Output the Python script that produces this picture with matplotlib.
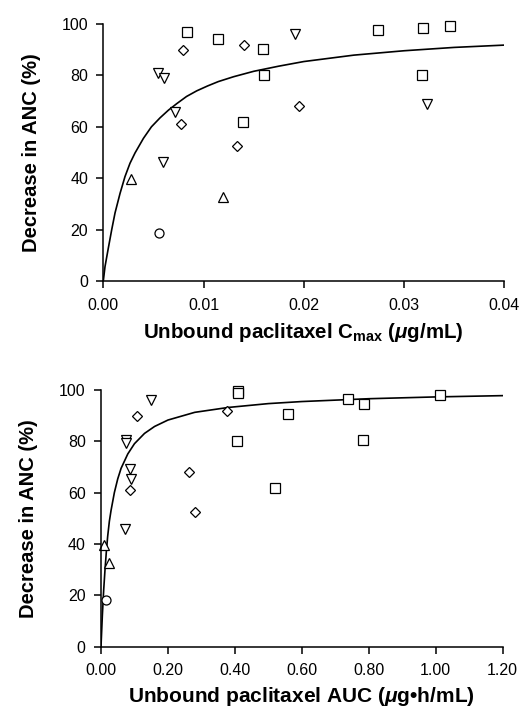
import numpy as np
from matplotlib import pyplot as plt
from matplotlib.ticker import FormatStrFormatter

plt.rcParams['font.family'] = ['Liberation Sans', 'DejaVu Sans']
plt.rcParams['mathtext.fontset'] = 'custom'
plt.rcParams['mathtext.rm'] = 'Liberation Sans:bold'
plt.rcParams['mathtext.bf'] = 'Liberation Sans:bold'
plt.rcParams['mathtext.it'] = 'Liberation Sans:italic:bold'

# top panel: unbound Cmax (ug/mL) vs decrease in ANC (%)
cmax_square_x = [0.00838, 0.01147, 0.0159, 0.0160, 0.01393, 0.02737, 0.03185, 0.03461, 0.03175]
cmax_square_y = [96.8, 94.3, 90.4, 80.0, 61.9, 97.7, 98.6, 99.1, 80.0]
cmax_diamond_x = [0.00791, 0.01403, 0.00771, 0.01337, 0.01952]
cmax_diamond_y = [89.8, 91.7, 61.0, 52.7, 68.0]
cmax_down_x = [0.00545, 0.00602, 0.00712, 0.00599, 0.01909, 0.03232]
cmax_down_y = [80.8, 79.1, 65.6, 46.4, 96.0, 69.0]
cmax_up_x = [0.00279, 0.01197]
cmax_up_y = [39.8, 32.8]
cmax_circle_x = [0.00559]
cmax_circle_y = [18.5]

# fitted curve
cmax_fit_x = [0.0, 0.00017, 0.0005, 0.00084, 0.00117, 0.00167, 0.00216, 0.00266, 0.00316,
              0.004, 0.0048, 0.00566, 0.0065, 0.00732, 0.0083, 0.00932, 0.0104,
              0.01147, 0.013, 0.015, 0.0175, 0.02, 0.025, 0.03, 0.035, 0.04]
cmax_fit_y = [0.0, 5.6, 12.8, 20.0, 26.5, 34.1, 40.6, 45.8, 49.8,
              55.5, 60.0, 63.5, 66.5, 69.0, 71.8, 74.0, 75.9,
              77.6, 79.5, 81.6, 83.6, 85.4, 87.9, 89.6, 90.9, 91.8]

# bottom panel: unbound AUC (ug*h/mL) vs decrease in ANC (%)
auc_square_x = [0.408, 0.408, 0.407, 0.520, 0.558, 0.737, 0.785, 0.784, 1.012]
auc_square_y = [99.4, 98.6, 80.0, 61.6, 90.4, 96.5, 94.3, 80.3, 97.8]
auc_diamond_x = [0.109, 0.377, 0.0866, 0.262, 0.280]
auc_diamond_y = [89.8, 91.7, 60.8, 68.0, 52.3]
auc_down_x = [0.148, 0.0736, 0.0756, 0.0876, 0.0896, 0.0716]
auc_down_y = [95.9, 80.4, 79.1, 69.3, 65.4, 45.8]
auc_up_x = [0.010, 0.023]
auc_up_y = [39.6, 32.4]
auc_circle_x = [0.016]
auc_circle_y = [18.2]

auc_fit_x = [0.0, 0.004, 0.008, 0.012, 0.016, 0.02, 0.025, 0.03, 0.04, 0.05, 0.06,
             0.08, 0.10, 0.13, 0.16, 0.20, 0.28, 0.38, 0.50, 0.60, 0.80, 1.00, 1.20]
auc_fit_y = [0.0, 12.0, 22.0, 30.0, 37.0, 43.0, 48.8, 53.0, 60.0, 65.3, 69.4,
             75.0, 79.0, 83.0, 85.7, 88.2, 91.2, 93.1, 94.6, 95.4, 96.5, 97.2, 97.7]

fig = plt.figure(figsize=(5.26, 7.13), dpi=100)
ax1 = fig.add_axes([0.1964, 0.6059, 0.7624, 0.3604])
ax2 = fig.add_axes([0.192, 0.093, 0.7637, 0.3604])

def style(ax):
    for s in ['top', 'right']:
        ax.spines[s].set_visible(False)
    for s in ['left', 'bottom']:
        ax.spines[s].set_linewidth(1.1)
    ax.tick_params(direction='out', length=5, width=1.1, labelsize=11.5)
    ax.tick_params(axis='x', pad=7)
    ax.tick_params(axis='y', pad=6)
    ax.set_ylim(0, 100)
    ax.set_yticks([0, 20, 40, 60, 80, 100])
    ax.set_ylabel('Decrease in ANC (%)', fontsize=14.5, fontweight='bold', labelpad=15)

def points(ax, sets):
    kw = dict(linestyle='none', markerfacecolor='white', markeredgecolor='black',
              markeredgewidth=0.9, color='black', clip_on=False)
    for xs, ys, m, ms in sets:
        ax.plot(xs, ys, marker=m, markersize=ms, **kw)

ax1.plot(cmax_fit_x, cmax_fit_y, color='black', lw=1.2)
points(ax1, [(cmax_square_x, cmax_square_y, 's', 6.5),
             (cmax_diamond_x, cmax_diamond_y, 'D', 5.2),
             (cmax_down_x, cmax_down_y, 'v', 6.5),
             (cmax_up_x, cmax_up_y, '^', 6.5),
             (cmax_circle_x, cmax_circle_y, 'o', 6.5)])
ax1.set_xlim(0, 0.04)
ax1.set_xticks([0.00, 0.01, 0.02, 0.03, 0.04])
ax1.xaxis.set_major_formatter(FormatStrFormatter('%.2f'))
style(ax1)
ax1.set_xlabel(r'Unbound paclitaxel C$_{\mathbf{max}}$ ($\mathit{\mu}$g/mL)',
               fontsize=14.8, fontweight='bold', labelpad=6)

ax2.plot(auc_fit_x, auc_fit_y, color='black', lw=1.2)
points(ax2, [(auc_square_x, auc_square_y, 's', 6.5),
             (auc_diamond_x, auc_diamond_y, 'D', 5.2),
             (auc_down_x, auc_down_y, 'v', 6.5),
             (auc_up_x, auc_up_y, '^', 6.5),
             (auc_circle_x, auc_circle_y, 'o', 6.5)])
ax2.set_xlim(0, 1.2)
ax2.set_xticks([0.0, 0.2, 0.4, 0.6, 0.8, 1.0, 1.2])
ax2.xaxis.set_major_formatter(FormatStrFormatter('%.2f'))
style(ax2)
ax2.set_xlabel(r'Unbound paclitaxel AUC ($\mathit{\mu}$g•h/mL)',
               fontsize=15, fontweight='bold', labelpad=5)

plt.savefig('out.png', dpi=100)
